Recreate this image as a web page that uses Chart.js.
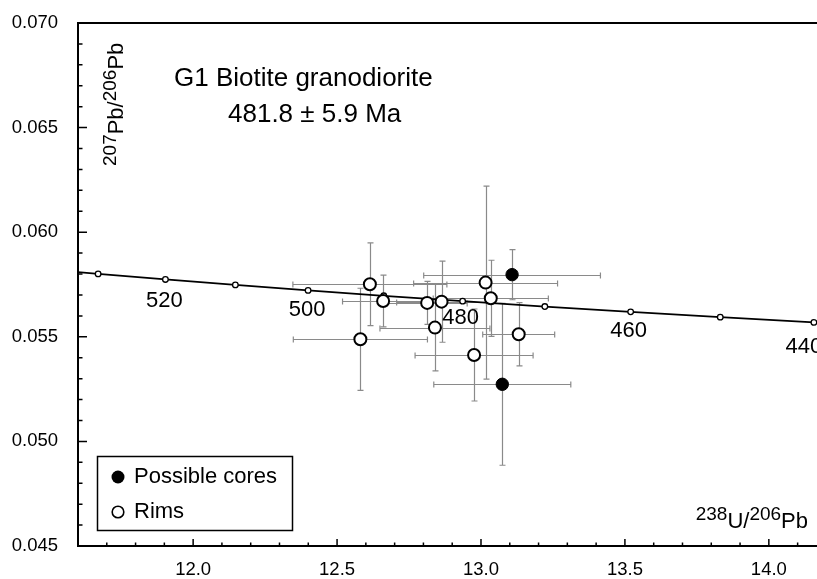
<!DOCTYPE html>
<html><head><meta charset="utf-8">
<script src="https://cdn.jsdelivr.net/npm/chart.js@4/dist/chart.umd.min.js"></script>
<style>html,body{margin:0;padding:0;background:#fff}</style>
</head><body>
<canvas id="c" width="817" height="579"></canvas>
<script>
// ---------- data ----------
const coresX    = [13.108, 13.074];
const coresY    = [0.05797, 0.05273];
const coresXErr = [0.307, 0.238];
const coresYErr = [0.0012, 0.00387];

const rimsX    = [12.614, 12.660, 12.813, 12.863, 13.016, 13.034, 12.840, 12.581, 12.976, 13.131];
const rimsY    = [0.05751, 0.05671, 0.05662, 0.05668, 0.05759, 0.05684, 0.05544, 0.05488, 0.05413, 0.05512];
const rimsXErr = [0.2675, 0.141, 0.139, 0.156, 0.250, 0.200, 0.191, 0.233, 0.205, 0.125];
const rimsYErr = [0.00198, 0.00124, 0.00103, 0.00194, 0.00461, 0.00182, 0.00207, 0.00244, 0.0022, 0.00151];

const concordiaAge = [540, 530, 520, 510, 500, 490, 480, 470, 460, 450, 440, 430];
const concordiaX   = [11.4448, 11.6699, 11.9037, 12.1467, 12.3993, 12.6623, 12.9362, 13.2218, 13.5199, 13.8312, 14.1566, 14.4972];
const concordiaY   = [0.058272, 0.058006, 0.057742, 0.057480, 0.057219, 0.056960, 0.056703, 0.056447, 0.056193, 0.055940, 0.055689, 0.055439];
const ageLabels    = [520, 500, 480, 460, 440];

const xMajorTicks = [12.0, 12.5, 13.0, 13.5, 14.0];
const xMinorTicks = [11.7, 11.8, 11.9, 12.1, 12.2, 12.3, 12.4, 12.6, 12.7, 12.8, 12.9, 13.1, 13.2, 13.3, 13.4, 13.6, 13.7, 13.8, 13.9, 14.1];
const yMajorTicks = [0.045, 0.050, 0.055, 0.060, 0.065, 0.070];
const yMinorTicks = [0.046, 0.047, 0.048, 0.049, 0.051, 0.052, 0.053, 0.054, 0.056, 0.057, 0.058, 0.059, 0.061, 0.062, 0.063, 0.064, 0.066, 0.067, 0.068, 0.069];

const titleLines = ['G1 Biotite granodiorite', '481.8 \u00b1 5.9 Ma'];
const seriesNames = ['Possible cores', 'Rims'];

// ---------- styles ----------
const FONT = '"Liberation Sans", Arial, Helvetica, sans-serif';
const ERR_COLOR = '#8a8a8a';

function pts(xs, ys) { return xs.map((x, i) => ({x: x, y: ys[i]})); }

function drawRich(ctx, parts, x, y, big, small, rise) {
  let cx = x;
  for (const p of parts) {
    ctx.font = (p.sup ? small : big) + 'px ' + FONT;
    ctx.fillText(p.t, cx, p.sup ? y - rise : y);
    cx += ctx.measureText(p.t).width;
  }
  return cx - x;
}
function richWidth(ctx, parts, big, small) {
  let w = 0;
  for (const p of parts) { ctx.font = (p.sup ? small : big) + 'px ' + FONT; w += ctx.measureText(p.t).width; }
  return w;
}

const errPlugin = {
  id: 'errbars',
  beforeDatasetsDraw(chart) {
    const ctx = chart.ctx, sx = chart.scales.x, sy = chart.scales.y, a = chart.chartArea;
    ctx.save();
    ctx.beginPath(); ctx.rect(a.left, a.top, a.right - a.left, a.bottom - a.top); ctx.clip();
    ctx.strokeStyle = ERR_COLOR; ctx.lineWidth = 1.2;
    const draw = (xs, ys, xe, ye) => {
      for (let i = 0; i < xs.length; i++) {
        const px = Math.round(sx.getPixelForValue(xs[i])) + 0.5;
        const py = Math.round(sy.getPixelForValue(ys[i])) + 0.5;
        const x1 = sx.getPixelForValue(xs[i] - xe[i]), x2 = sx.getPixelForValue(xs[i] + xe[i]);
        const y1 = sy.getPixelForValue(ys[i] + ye[i]), y2 = sy.getPixelForValue(ys[i] - ye[i]);
        ctx.beginPath();
        ctx.moveTo(x1, py); ctx.lineTo(x2, py);
        ctx.moveTo(px, y1); ctx.lineTo(px, y2);
        ctx.moveTo(x1, py - 3); ctx.lineTo(x1, py + 3);
        ctx.moveTo(x2, py - 3); ctx.lineTo(x2, py + 3);
        ctx.moveTo(px - 3, y1); ctx.lineTo(px + 3, y1);
        ctx.moveTo(px - 3, y2); ctx.lineTo(px + 3, y2);
        ctx.stroke();
      }
    };
    draw(rimsX, rimsY, rimsXErr, rimsYErr);
    draw(coresX, coresY, coresXErr, coresYErr);
    ctx.restore();
  },
  afterDraw(chart) {
    const ctx = chart.ctx, sx = chart.scales.x, sy = chart.scales.y, a = chart.chartArea;
    ctx.save();
    // axes frame
    ctx.strokeStyle = '#000'; ctx.lineWidth = 2;
    ctx.beginPath();
    ctx.moveTo(a.right, a.top); ctx.lineTo(a.left, a.top); ctx.lineTo(a.left, a.bottom); ctx.lineTo(a.right, a.bottom);
    ctx.stroke();
    // inward ticks
    ctx.lineWidth = 1.5;
    ctx.beginPath();
    for (const v of xMajorTicks) { const p = sx.getPixelForValue(v); ctx.moveTo(p, a.bottom); ctx.lineTo(p, a.bottom - 7); }
    for (const v of xMinorTicks) { const p = sx.getPixelForValue(v); ctx.moveTo(p, a.bottom); ctx.lineTo(p, a.bottom - 3.5); }
    for (const v of yMajorTicks) { const p = sy.getPixelForValue(v); ctx.moveTo(a.left, p); ctx.lineTo(a.left + 9, p); }
    for (const v of yMinorTicks) { const p = sy.getPixelForValue(v); ctx.moveTo(a.left, p); ctx.lineTo(a.left + 4.5, p); }
    ctx.stroke();

    ctx.fillStyle = '#000';
    // y tick labels
    ctx.font = '18.5px ' + FONT; ctx.textAlign = 'right'; ctx.textBaseline = 'middle';
    for (const v of yMajorTicks) ctx.fillText(v.toFixed(3), a.left - 20, sy.getPixelForValue(v));

    // age labels on concordia
    ctx.font = '22px ' + FONT; ctx.textAlign = 'center'; ctx.textBaseline = 'middle';
    const lblOff = {520: [-1, 22], 500: [-1, 20], 480: [-2, 17], 460: [-2, 19], 440: [-10, 25]};
    for (const age of ageLabels) {
      const i = concordiaAge.indexOf(age);
      const px = sx.getPixelForValue(concordiaX[i]), py = sy.getPixelForValue(concordiaY[i]);
      ctx.fillText(String(age), px + lblOff[age][0], py + lblOff[age][1]);
    }
    // titles
    ctx.textAlign = 'left'; ctx.textBaseline = 'alphabetic';
    ctx.font = '26px ' + FONT;
    ctx.fillText(titleLines[0], 174, 86);
    ctx.fillText(titleLines[1], 228, 122);

    // y-axis title (rotated)
    const yParts = [{t: '207', sup: true}, {t: 'Pb/'}, {t: '206', sup: true}, {t: 'Pb'}];
    ctx.save();
    ctx.translate(123, 166); ctx.rotate(-Math.PI / 2);
    drawRich(ctx, yParts, 0, 0, 22, 19, 7);
    ctx.restore();
    // x-axis title
    const xParts = [{t: '238', sup: true}, {t: 'U/'}, {t: '206', sup: true}, {t: 'Pb'}];
    const w = richWidth(ctx, xParts, 22, 19);
    drawRich(ctx, xParts, 808 - w, 528, 22, 19, 8);

    // legend
    ctx.lineWidth = 1.5; ctx.strokeStyle = '#000';
    ctx.strokeRect(97.5, 456.5, 195, 74);
    ctx.beginPath(); ctx.arc(118, 477, 6.5, 0, Math.PI * 2); ctx.fillStyle = '#000'; ctx.fill();
    ctx.beginPath(); ctx.arc(118, 512, 5.8, 0, Math.PI * 2); ctx.fillStyle = '#fff'; ctx.fill();
    ctx.lineWidth = 1.6; ctx.stroke();
    ctx.fillStyle = '#000'; ctx.font = '22px ' + FONT; ctx.textBaseline = 'middle';
    ctx.fillText(seriesNames[0], 134, 477);
    ctx.fillText(seriesNames[1], 134, 512);
    ctx.restore();
  }
};

new Chart(document.getElementById('c'), {
  type: 'scatter',
  data: {
    datasets: [
      { label: seriesNames[0], data: pts(coresX, coresY), order: 1,
        pointRadius: 6.2, backgroundColor: '#000', borderColor: '#000', borderWidth: 1, pointHoverRadius: 6.2 },
      { label: seriesNames[1], data: pts(rimsX, rimsY), order: 2,
        pointRadius: 6, backgroundColor: '#fff', borderColor: '#000', borderWidth: 2, pointHoverRadius: 6 },
      { label: 'Concordia', data: pts(concordiaX, concordiaY), order: 3, showLine: true,
        borderColor: '#000', borderWidth: 1.8, pointRadius: 2.8, pointBackgroundColor: '#fff',
        pointBorderColor: '#000', pointBorderWidth: 1.3, tension: 0 }
    ]
  },
  options: {
    responsive: false, animation: false, devicePixelRatio: 1,
    layout: { autoPadding: false, padding: { top: 23, right: 0, left: 0, bottom: 0 } },
    plugins: { legend: { display: false }, tooltip: { enabled: false } },
    events: [],
    scales: {
      x: {
        type: 'linear', min: 11.6, max: 14.1673,
        afterFit: s => { s.height = 33; },
        afterBuildTicks: s => { s.ticks = xMajorTicks.map(v => ({value: v})); },
        grid: { display: false, drawTicks: false }, border: { display: false },
        ticks: { padding: 13, color: '#000', font: { family: FONT, size: 18.5 }, autoSkip: false, maxRotation: 0,
                 callback: v => Number(v).toFixed(1) }
      },
      y: {
        type: 'linear', min: 0.045, max: 0.070,
        afterFit: s => { s.width = 78; },
        afterBuildTicks: s => { s.ticks = yMajorTicks.map(v => ({value: v})); },
        grid: { display: false, drawTicks: false }, border: { display: false },
        ticks: { display: false }
      }
    }
  },
  plugins: [errPlugin]
});
</script>
</body></html>
